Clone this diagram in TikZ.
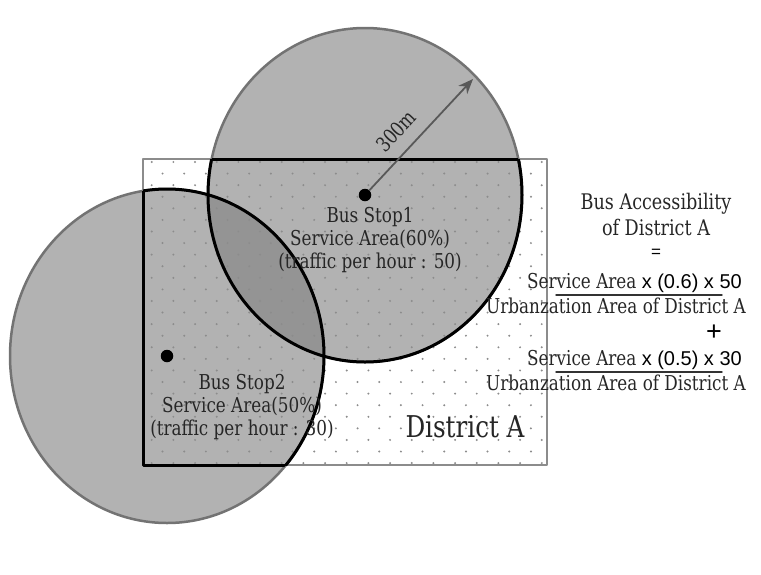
\documentclass[tikz,border=0pt]{standalone}
\usepackage{fontspec}
\setmainfont[FakeStretch=0.82]{DejaVu Serif}
\newfontfamily\sansx{Liberation Sans}
\usetikzlibrary{arrows.meta}

\begin{document}
\begin{tikzpicture}[x=1pt, y=-1pt, line join=round, line cap=round,
    stopdot/.style={circle, fill=black, inner sep=0pt, minimum size=12.5pt},
    lbl/.style={text=black!85, inner sep=0pt, align=center, font=\fontsize{20.5}{23}\selectfont},
    edge/.style={line width=3pt, black}]
    % 1. Canvas
    \useasboundingbox (0,0) rectangle (761,574);

    % 2. Points
    \coordinate (S1) at (365,195); % bus stop 1
    \coordinate (S2) at (167,356); % bus stop 2
    \coordinate (R1) at (143,159); % district A, top left
    \coordinate (R2) at (547,465); % district A, bottom right
    \coordinate (T) at (473,79);   % end of the 300m radius

    % 3. District and service areas
    \fill[white] (R1) rectangle (R2);
    \filldraw[fill=black!30, draw=black!55, line width=2.5pt] (S1) ellipse [x radius=157, y radius=167];
    \filldraw[fill=black!30, draw=black!55, line width=2.5pt] (S2) ellipse [x radius=157, y radius=167];
    \begin{scope}
        \clip (S1) ellipse [x radius=157, y radius=167];
        \fill[black!42] (S2) ellipse [x radius=157, y radius=167]; % overlap
    \end{scope}

    % 4. Dotted district
    \begin{scope}
        \clip (R1) rectangle (R2);
        \foreach \i in {0,...,26}
            \foreach \k in {0,...,18}
                \fill[black!45] ({151.7+10.83*mod(\i,2)+21.67*\k}, {162+11.58*\i}) circle (1.1);
    \end{scope}
    \draw[black!45, line width=2.5pt] (R1) rectangle (R2);

    % 5. Service areas inside district A
    \begin{scope}
        \clip (R1) rectangle (R2);
        \draw[edge] (S1) ellipse [x radius=157, y radius=167];
        \draw[edge] (S2) ellipse [x radius=157, y radius=167];
    \end{scope}
    \begin{scope}
        \clip (S1) ellipse [x radius=157, y radius=167];
        \draw[edge] (R1) rectangle (R2);
    \end{scope}
    \begin{scope}
        \clip (S2) ellipse [x radius=157, y radius=167];
        \draw[edge] (R1) rectangle (R2);
    \end{scope}

    % 6. Bus stops and radius
    \node[stopdot] (stop1) at (S1) {};
    \node[stopdot] (stop2) at (S2) {};
    \draw[black!65, line width=1.8pt, -{Stealth[length=15pt, width=12pt]}] (stop1) -- (T);
    \node[lbl, rotate=46.8] (radius) at (396,131) {300m};

    % 7. Labels (anchored at the last line)
    \node[lbl, anchor=base] (area1) at (370,268) {Bus Stop1\\Service Area(60\%)\\(traffic per hour : 50)};
    \node[lbl, anchor=base] (area2) at (242,435) {Bus Stop2\\Service Area(50\%)\\(traffic per hour : 30)};
    \node[lbl, font=\fontsize{30}{34}\selectfont, anchor=base] (district) at (465,437) {District A};

    % 8. Formula
    \node[lbl, font=\fontsize{21.5}{25.7}\selectfont, anchor=base] (title) at (656,235) {Bus Accessibility\\of District A};
    \node[font=\sansx\fontsize{17}{17}\selectfont, inner sep=0pt] (eq) at (656,253) {=};
    \node[lbl, anchor=base west] (num1) at (527,288) {Service Area {\sansx\fontsize{20}{23}\selectfont\color{black} x (0.6) x 50}};
    \node[lbl, anchor=base west] (den1) at (486,313) {Urbanzation Area of District A};
    \node[font=\sansx\fontsize{27}{27}\selectfont, inner sep=0pt] (plus) at (714,333) {+};
    \node[lbl, anchor=base west] (num2) at (527,365) {Service Area {\sansx\fontsize{20}{23}\selectfont\color{black} x (0.5) x 30}};
    \node[lbl, anchor=base west] (den2) at (486,390) {Urbanzation Area of District A};
    \coordinate (F1a) at (556,295);
    \coordinate (F1b) at (722,295);
    \coordinate (F2a) at (556,372);
    \coordinate (F2b) at (722,372);
    \draw[black!80, line width=1.4pt] (F1a) -- (F1b);
    \draw[black!80, line width=1.4pt] (F2a) -- (F2b);
\end{tikzpicture}
\end{document}
